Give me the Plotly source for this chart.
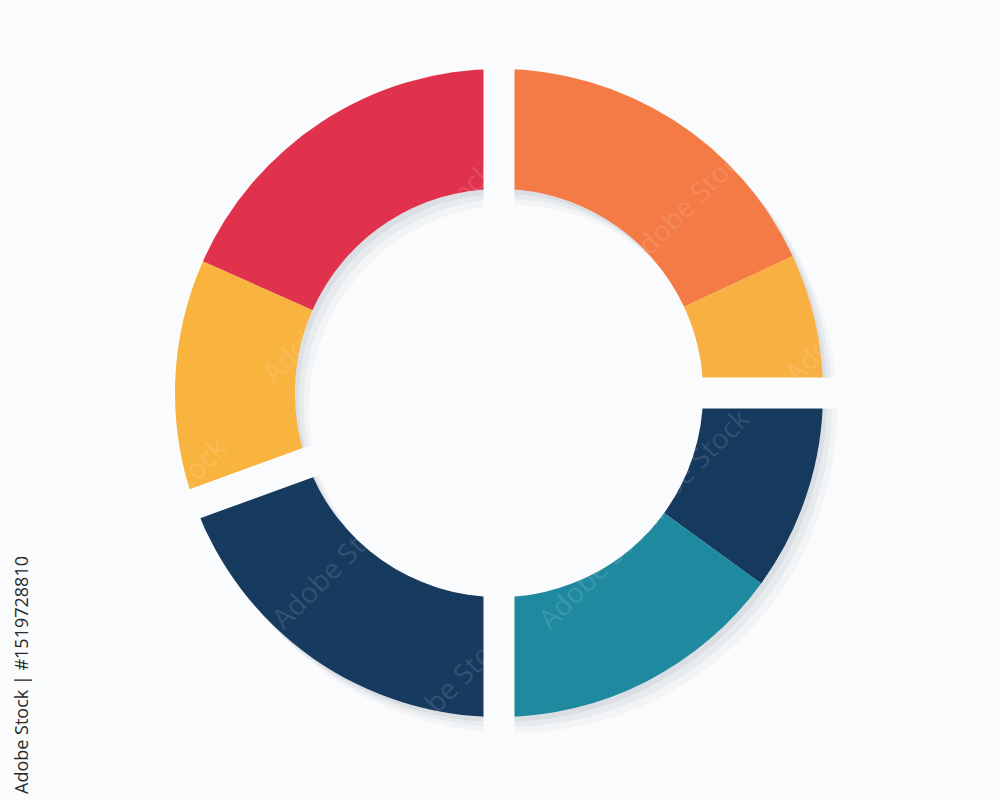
import math
import plotly.graph_objects as go

# ---- data (degrees of the ring, clockwise from 12 o'clock) ----
segments = ["Orange", "Yellow (right)", "Navy (right)", "Teal", "Navy (left)", "Yellow (left)", "Red"]
values = [65, 25, 36, 54, 70, 44, 66]
groups = ["Q1", "Q1", "Q2", "Q2", "Q3", "Q4", "Q4"]
colors = ["#f47b45", "#f8b043", "#16395e", "#1f8a9f", "#173a5f", "#f9b440", "#e1324d"]

W, H = 1000, 800
BG = "#fafbfc"
cx_px, cy_px, R_px = 499, 393, 324
hole = 0.63

dom_x = [(cx_px - R_px) / W, (cx_px + R_px) / W]
dom_y = [1 - (cy_px + R_px) / H, 1 - (cy_px - R_px) / H]

fig = go.Figure()

# soft shadow layers
for dx, dy, a in [(14, 16, 0.04), (9, 10, 0.05), (4, 5, 0.07)]:
    fig.add_trace(go.Pie(
        values=values, labels=segments, sort=False, direction="clockwise", rotation=0,
        hole=hole, textinfo="none", hoverinfo="skip", showlegend=False,
        marker=dict(colors=[f"rgba(60,75,105,{a})"] * len(values)),
        domain=dict(x=[dom_x[0] + dx / W, dom_x[1] + dx / W],
                    y=[dom_y[0] - dy / H, dom_y[1] - dy / H]),
    ))

fig.add_trace(go.Pie(
    values=values, labels=segments, sort=False, direction="clockwise", rotation=0,
    hole=hole, textinfo="none", showlegend=False,
    marker=dict(colors=colors, line=dict(width=0)),
    domain=dict(x=dom_x, y=dom_y),
))

# gaps between groups, computed from cumulative data
total = sum(values)
shapes = []
cum = 0
for i, v in enumerate(values):
    cum += v
    nxt = groups[(i + 1) % len(groups)]
    if nxt != groups[i]:
        ang = math.radians(cum / total * 360)
        rr = R_px + 45
        shapes.append(dict(type="line", xref="paper", yref="paper",
                           x0=cx_px / W, y0=1 - cy_px / H,
                           x1=(cx_px + rr * math.sin(ang)) / W,
                           y1=1 - (cy_px - rr * math.cos(ang)) / H,
                           line=dict(color=BG, width=31), layer="above"))

annotations = [dict(
    text="Adobe Stock | #1519728810", x=21 / W, y=1 - 675 / H, xref="paper", yref="paper",
    xanchor="center", yanchor="middle",
    textangle=-90, showarrow=False, font=dict(family="Open Sans", size=18, color="#2a2a2a"),
)]

# faint diagonal watermarks
wm_positions = [(110, 120), (430, 150), (760, 130), (250, 320), (590, 330), (920, 320),
                (90, 500), (420, 480), (760, 470), (260, 640), (600, 640), (920, 640),
                (120, 760), (450, 760), (780, 760)]
for (x, y) in wm_positions:
    annotations.append(dict(
        text="Adobe Stock", x=x / W, y=1 - y / H, xref="paper", yref="paper",
        textangle=-45, showarrow=False,
        font=dict(family="Open Sans", size=28, color="rgba(255,255,255,0.12)"),
    ))

fig.update_layout(
    width=W, height=H,
    margin=dict(l=0, r=0, t=0, b=0),
    paper_bgcolor=BG, plot_bgcolor=BG,
    shapes=shapes, annotations=annotations,
    showlegend=False,
)

fig.write_html("out.html", config={"displayModeBar": False},
               post_script="document.body.style.margin='0';document.body.style.background='%s';" % BG)
